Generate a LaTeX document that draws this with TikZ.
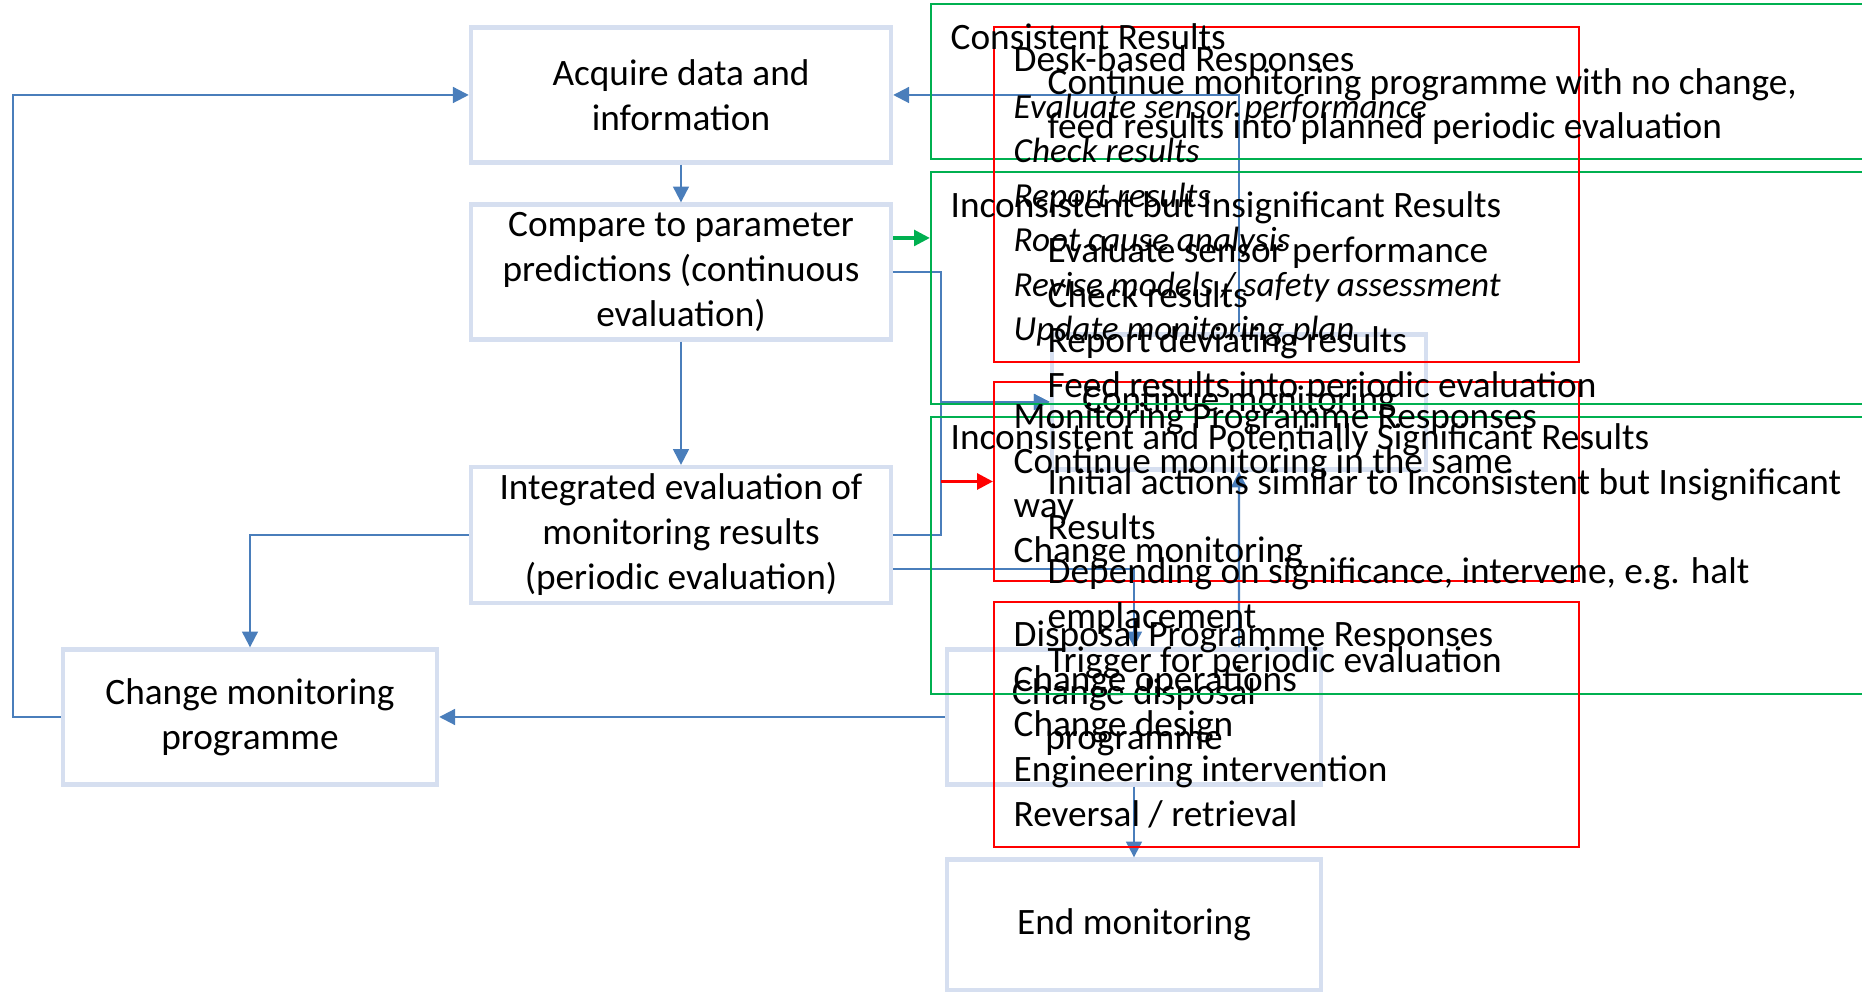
\documentclass[tikz,border=0pt]{standalone}
\usepackage{fontspec}
\setmainfont{Carlito}
\usetikzlibrary{arrows.meta}
\definecolor{boxblue}{HTML}{D6DFF0}
\definecolor{lineblue}{HTML}{4A7EBB}
\definecolor{okgreen}{HTML}{00B050}
\definecolor{alertred}{HTML}{FF0000}
\begin{document}
\begin{tikzpicture}[x=0.01cm,y=-0.01cm,
    font=\fontsize{10.6}{12.8}\selectfont,
    stage/.style={draw=boxblue, line width=1.2pt, align=center, minimum width=4.2cm, minimum height=1.35cm, inner sep=2pt},
    smallstage/.style={stage, minimum width=3.74cm},
    flow/.style={draw=lineblue, line width=0.6pt, -{Triangle[length=4.5pt,width=4.5pt]}},
    okflow/.style={flow, draw=okgreen, line width=0.9pt},
    alertflow/.style={flow, draw=alertred, line width=0.9pt},
    group/.style={draw=okgreen, line width=0.5pt, inner sep=0pt, minimum width=9.6cm},
    resp/.style={draw=alertred, line width=0.5pt, inner sep=0pt, minimum width=5.85cm},
    txt/.style={anchor=west, inner sep=0pt, text height=1.5ex, text depth=.25ex, yshift=-0.025cm}]
    \useasboundingbox (0,0) rectangle (1862,992);
    \clip (0,0) rectangle (1862,992);

    % Flow boxes
    \node[stage] (acq) at (681,95) {Acquire data and\\information};
    \node[stage] (cmp) at (681,272) {Compare to parameter\\predictions (continuous\\evaluation)};
    \node[stage] (ieval) at (681,535) {Integrated evaluation of\\monitoring results\\(periodic evaluation)};
    \node[smallstage] (chmon) at (250,717) {Change monitoring\\programme};
    \node[smallstage] (chdisp) at (1134,717) {Change disposal\\programme};
    \node[smallstage, minimum height=1.31cm] (endmon) at (1134,925) {End monitoring};
    \node[smallstage] (contmon) at (1239,402) {Continue monitoring};

    % Connectors
    \draw[flow] (acq) -- (cmp);
    \draw[flow] (cmp) -- (ieval);
    \draw[flow] (ieval.west) -| (chmon.north);
    \draw[flow] (chmon.west) -- ++(-48,0) |- (acq.west);
    \draw[flow] (chdisp.west) -- (chmon.east);
    \draw[flow] (contmon.north) |- (acq.east);
    \draw[flow] (cmp.east) -- ++(48,0) |- (contmon.west);
    \draw[flow] (ieval.east) -- ++(48,0) |- (contmon.west);
    \coordinate (ilow) at ([yshift=-0.34cm]ieval.east);
    \draw[flow] (ilow) -| (chdisp.north);
    \draw[flow] ([xshift=1.05cm]chdisp.north) -- (contmon.south);
    \draw[flow] (chdisp) -- (endmon);

    % Result groups (green)
    \node[group, minimum height=1.55cm] (g1) at (1411,81.5) {};
    \node[group, minimum height=2.32cm] (g2) at (1411,288) {};
    \node[group, minimum height=2.77cm] (g3) at (1411,555.5) {};

    % Responses (red)
    \node[resp, minimum height=3.35cm] (r1) at (1286.5,194.5) {};
    \node[resp, minimum height=1.99cm] (r2) at (1286.5,481.5) {};
    \node[resp, minimum height=2.45cm] (r3) at (1286.5,724.5) {};

    \coordinate (gsplit) at ([yshift=0.34cm]cmp.east);
    \draw[okflow] (gsplit) -- (gsplit -| g2.west);
    \coordinate (rsplit) at (941,481.5);
    \draw[alertflow] (rsplit) -- (r2.west);

    % Group texts
    \node[txt] (g1-t) at (950,37) {Consistent Results};
    \foreach \line [count=\i] in {{Continue monitoring programme with no change,},
        feed results into planned periodic evaluation}
        \node[txt] (g1-\i) at (1047,37+44.5*\i) {\line};
    \node[txt] (g2-t) at (950,205) {Inconsistent but Insignificant Results};
    \foreach \line [count=\i] in {Evaluate sensor performance, Check results,
        Report deviating results, Feed results into periodic evaluation}
        \node[txt] (g2-\i) at (1047,205+45*\i) {\line};
    \node[txt] (g3-t) at (950,437) {Inconsistent and Potentially Significant Results};
    \foreach \line [count=\i] in {Initial actions similar to Inconsistent but Insignificant,
        Results, {Depending on significance, intervene, e.g. halt}, emplacement,
        Trigger for periodic evaluation}
        \node[txt] (g3-\i) at (1047,437+44.6*\i) {\line};

    % Response texts
    \node[txt] (r1-t) at (1013,59) {Desk-based Responses};
    \foreach \line [count=\i] in {Evaluate sensor performance, Check results, Report results,
        Root cause analysis, Revise models / safety assessment, Update monitoring plan}
        \node[txt, font=\itshape] (r1-\i) at (1013,61+44.5*\i) {\line};
    \node[txt] (r2-t) at (1013,416) {Monitoring Programme Responses};
    \foreach \line [count=\i] in {Continue monitoring in the same, way, Change monitoring}
        \node[txt] (r2-\i) at (1013,416+44.5*\i) {\line};
    \node[txt] (r3-t) at (1013,634) {Disposal Programme Responses};
    \foreach \line [count=\i] in {Change operations, Change design,
        Engineering intervention, Reversal / retrieval}
        \node[txt] (r3-\i) at (1013,634+44.8*\i) {\line};
\end{tikzpicture}
\end{document}
